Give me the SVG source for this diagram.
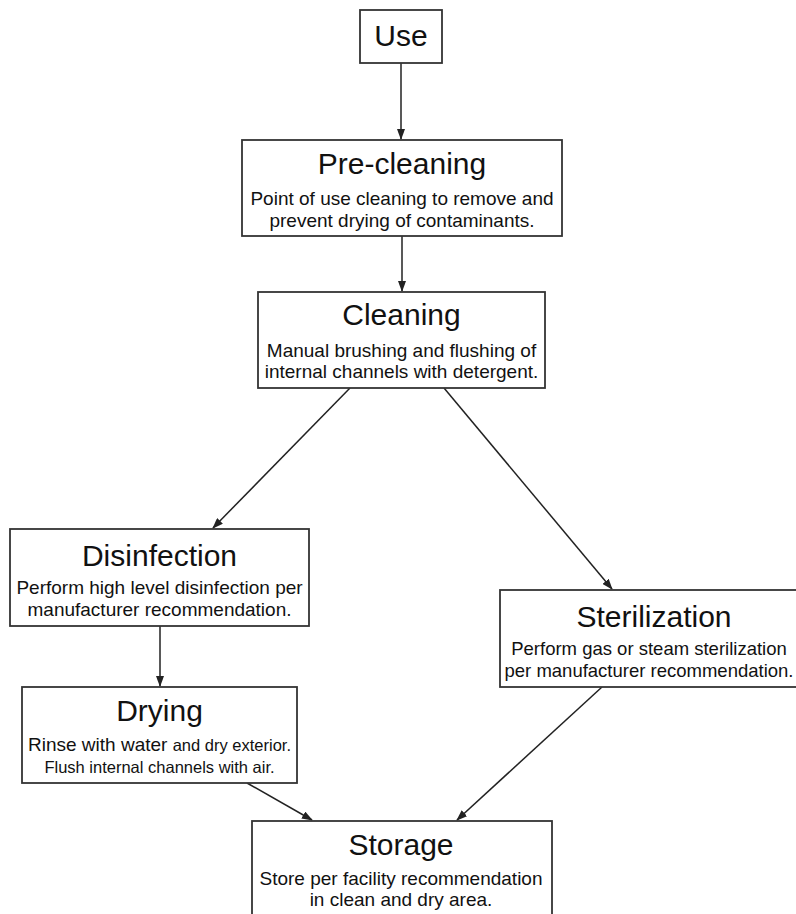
<svg xmlns="http://www.w3.org/2000/svg" width="796" height="914" viewBox="0 0 796 914">
<defs>
<marker id="ah" markerWidth="11" markerHeight="8" refX="10" refY="4" orient="auto" markerUnits="userSpaceOnUse">
<path d="M0,0 L11,4 L0,8 Z" fill="#222"/>
</marker>
<style>
.box{fill:#fff;stroke:#333;stroke-width:1.8}
.t{font-family:"Liberation Sans",Arial,Helvetica,sans-serif;fill:#111;text-anchor:middle}
.h{font-size:30px}
.s{font-size:19px}
.ss{font-size:18.5px}
.xs{font-size:16.5px}
.c{stroke:#222;stroke-width:1.5;fill:none;marker-end:url(#ah)}
</style>
</defs>
<rect width="796" height="914" fill="#fff"/>
<g id="connectors">
<line class="c" x1="401" y1="63" x2="401" y2="139"/>
<line class="c" x1="402" y1="236" x2="402" y2="291"/>
<line class="c" x1="350" y1="388" x2="213" y2="528"/>
<line class="c" x1="444" y1="388" x2="612" y2="589"/>
<line class="c" x1="160" y1="626" x2="160" y2="686"/>
<line class="c" x1="247" y1="783" x2="312" y2="820"/>
<line class="c" x1="602" y1="687" x2="457" y2="820"/>
</g>
<g id="use">
<rect class="box" x="360" y="10" width="82" height="53"/>
<text class="t h" x="401" y="46">Use</text>
</g>
<g id="pre-cleaning">
<rect class="box" x="242" y="140" width="320" height="96"/>
<text class="t h" x="402" y="174">Pre-cleaning</text>
<text class="t s" x="402" y="205">Point of use cleaning to remove and</text>
<text class="t s" x="402" y="227">prevent drying of contaminants.</text>
</g>
<g id="cleaning">
<rect class="box" x="258" y="292" width="287" height="96"/>
<text class="t h" x="401.5" y="325">Cleaning</text>
<text class="t s" x="401.5" y="357">Manual brushing and flushing of</text>
<text class="t s" x="401.5" y="378">internal channels with detergent.</text>
</g>
<g id="disinfection">
<rect class="box" x="10" y="529" width="299" height="97"/>
<text class="t h" x="159.5" y="566">Disinfection</text>
<text class="t s" x="159.5" y="594">Perform high level disinfection per</text>
<text class="t s" x="159.5" y="616">manufacturer recommendation.</text>
</g>
<g id="sterilization">
<rect class="box" x="500" y="590" width="310" height="97"/>
<text class="t h" x="654" y="627">Sterilization</text>
<text class="t ss" x="649" y="655">Perform gas or steam sterilization</text>
<text class="t ss" x="649" y="677">per manufacturer recommendation.</text>
</g>
<g id="drying">
<rect class="box" x="22" y="687" width="275" height="96"/>
<text class="t h" x="159.5" y="721">Drying</text>
<text class="t" x="159.5" y="751"><tspan class="s">Rinse with water </tspan><tspan class="xs">and dry exterior.</tspan></text>
<text class="t xs" x="159.5" y="773">Flush internal channels with air.</text>
</g>
<g id="storage">
<rect class="box" x="252" y="821" width="300" height="110"/>
<text class="t h" x="401" y="855">Storage</text>
<text class="t s" x="401" y="885">Store per facility recommendation</text>
<text class="t s" x="401" y="906">in clean and dry area.</text>
</g>
</svg>
